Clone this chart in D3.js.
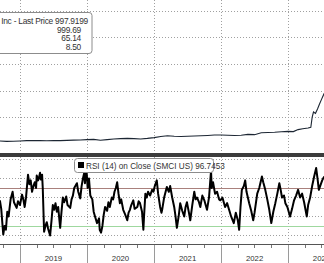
<!DOCTYPE html>
<html>
<head>
<meta charset="utf-8">
<script src="https://cdn.jsdelivr.net/npm/d3@7"></script>
<style>
  body { margin: 0; background: #fff; }
  svg { display: block; font-family: "Liberation Sans", Arial, sans-serif; }
  .grid { shape-rendering: crispEdges; }
</style>
</head>
<body>
<div id="chart"></div>
<script>
// price series (decimal year, USD)
var priceYears = [2018.70, 2018.80, 2018.90, 2019.00, 2019.10, 2019.20, 2019.30, 2019.40, 2019.50, 2019.60,
  2019.70, 2019.80, 2019.90, 2020.00, 2020.10, 2020.20, 2020.30, 2020.40, 2020.50, 2020.60,
  2020.70, 2020.80, 2020.90, 2021.00, 2021.10, 2021.20, 2021.30, 2021.40, 2021.50, 2021.60,
  2021.70, 2021.80, 2021.90, 2022.00, 2022.10, 2022.20, 2022.30, 2022.40, 2022.50, 2022.60,
  2022.70, 2022.80, 2022.90, 2023.00, 2023.08, 2023.15, 2023.22, 2023.30, 2023.34, 2023.36,
  2023.38, 2023.41, 2023.44, 2023.47, 2023.50, 2023.54];
var priceValues = [22, 20, 21, 23, 25, 26, 25, 24, 26, 25,
  27, 29, 30, 33, 35, 28, 33, 37, 40, 42,
  40, 38, 42, 48, 56, 62, 58, 56, 58, 60,
  62, 64, 67, 68, 66, 64, 66, 72, 70, 84,
  86, 88, 92, 95, 93, 108, 114, 120, 126, 200,
  240, 230, 262, 300, 335, 380];

// RSI (14) series
var rsiYears = [2018.70, 2018.72, 2018.75, 2018.77, 2018.79, 2018.81, 2018.83, 2018.86, 2018.89, 2018.91,
  2018.95, 2018.97, 2019.00, 2019.03, 2019.05, 2019.07, 2019.09, 2019.12, 2019.14, 2019.16,
  2019.18, 2019.20, 2019.22, 2019.24, 2019.25, 2019.27, 2019.28, 2019.30, 2019.31, 2019.33,
  2019.34, 2019.36, 2019.38, 2019.40, 2019.42, 2019.45, 2019.47, 2019.49, 2019.51, 2019.53,
  2019.55, 2019.57, 2019.60, 2019.62, 2019.64, 2019.66, 2019.69, 2019.71, 2019.75, 2019.77,
  2019.79, 2019.81, 2019.85, 2019.87, 2019.90, 2019.92, 2019.94, 2019.96, 2019.97, 2019.99,
  2020.01, 2020.03, 2020.05, 2020.08, 2020.10, 2020.12, 2020.15, 2020.18, 2020.19, 2020.21,
  2020.23, 2020.25, 2020.27, 2020.30, 2020.32, 2020.34, 2020.37, 2020.39, 2020.41, 2020.43,
  2020.45, 2020.47, 2020.49, 2020.51, 2020.54, 2020.57, 2020.60, 2020.62, 2020.64, 2020.66,
  2020.69, 2020.71, 2020.75, 2020.77, 2020.79, 2020.82, 2020.84, 2020.85, 2020.87, 2020.89,
  2020.91, 2020.94, 2020.97, 2020.99, 2021.01, 2021.04, 2021.06, 2021.09, 2021.11, 2021.12,
  2021.15, 2021.19, 2021.22, 2021.24, 2021.27, 2021.30, 2021.32, 2021.34, 2021.37, 2021.39,
  2021.42, 2021.45, 2021.47, 2021.49, 2021.52, 2021.54, 2021.57, 2021.60, 2021.62, 2021.64,
  2021.67, 2021.69, 2021.72, 2021.75, 2021.77, 2021.79, 2021.82, 2021.85, 2021.86, 2021.88,
  2021.91, 2021.94, 2021.97, 2021.99, 2022.02, 2022.06, 2022.09, 2022.12, 2022.15, 2022.19,
  2022.22, 2022.25, 2022.27, 2022.29, 2022.31, 2022.34, 2022.36, 2022.38, 2022.42, 2022.45,
  2022.48, 2022.50, 2022.54, 2022.57, 2022.61, 2022.63, 2022.66, 2022.69, 2022.72, 2022.75,
  2022.78, 2022.81, 2022.84, 2022.87, 2022.89, 2022.91, 2022.94, 2022.96, 2022.99, 2023.03,
  2023.06, 2023.09, 2023.12, 2023.15, 2023.18, 2023.21, 2023.24, 2023.28, 2023.30, 2023.33,
  2023.36, 2023.39, 2023.42, 2023.44, 2023.46, 2023.49, 2023.51, 2023.54];
var rsiValues = [57, 48, 21, 30, 26, 45, 40, 58, 66, 55,
  49, 56, 52, 63, 58, 50, 60, 84, 74, 78,
  66, 72, 76, 70, 83, 78, 80, 86, 79, 84,
  70, 24, 30, 34, 27, 20, 35, 52, 47, 54,
  45, 50, 28, 45, 60, 55, 61, 52, 49, 58,
  62, 70, 75, 66, 59, 72, 80, 86, 75, 93,
  70, 80, 62, 58, 45, 40, 33, 38, 26, 23,
  30, 42, 50, 46, 55, 50, 60, 58, 66, 70,
  76, 64, 54, 58, 47, 42, 36, 44, 47, 52,
  57, 48, 50, 56, 54, 45, 26, 40, 64, 60,
  66, 62, 68, 66, 72, 78, 64, 50, 44, 47,
  60, 71, 66, 72, 60, 50, 40, 28, 42, 54,
  46, 40, 50, 55, 44, 36, 52, 66, 58, 60,
  55, 50, 62, 57, 52, 47, 60, 88, 70, 76,
  64, 66, 58, 57, 60, 50, 54, 47, 40, 33,
  44, 36, 26, 50, 68, 72, 78, 66, 54, 46,
  36, 44, 64, 70, 82, 76, 68, 58, 47, 33,
  45, 54, 64, 75, 68, 60, 62, 54, 50, 40,
  48, 57, 62, 68, 60, 64, 55, 40, 52, 60,
  72, 82, 91, 80, 68, 74, 78, 82];

var priceGrid = [200, 400, 600, 800, 1000];
var rsiGrid = [20, 40, 60, 80, 100];
var rsiHigh = 70, rsiLow = 30;
var priceLegend = ["Super Micro Computer Inc - Last Price 997.9199", "999.69", "65.14", "8.50"];
var rsiLegend = "RSI (14)  on Close (SMCI US) 96.7453";

var W = 324, H = 263;

function yr(t) {
  var y = Math.floor(t);
  var a = new Date(y, 0, 1), b = new Date(y + 1, 0, 1);
  return new Date(+a + (t - y) * (b - a));
}
// snap to pixel centre so dotted lines stay crisp
function px(v) { return Math.round(v) + 0.5; }

var svg = d3.select("#chart").append("svg").attr("width", W).attr("height", H);

var x = d3.scaleTime().domain([yr(2018.7015), yr(2023.537)]).range([0, W]);
var yP = d3.scaleLinear().domain([0, 1000]).range([144, 10.7]);
var yR = d3.scaleLinear().domain([11, 102.6]).range([244, 157]);

var years = x.ticks(d3.timeYear.every(1));
var quarters = d3.timeMonth.every(3).range(x.domain()[0], x.domain()[1]);

var grid = "#a0a0a0";

// dotted grid, top panel
svg.selectAll("line.pg").data(priceGrid).enter().append("line").attr("class", "grid")
  .attr("x1", 0).attr("x2", W)
  .attr("y1", d => px(yP(d))).attr("y2", d => px(yP(d)))
  .attr("stroke", grid).attr("stroke-dasharray", "1,2");
svg.selectAll("line.pv").data(years).enter().append("line").attr("class", "grid")
  .attr("x1", d => px(x(d))).attr("x2", d => px(x(d)))
  .attr("y1", 0).attr("y2", 152)
  .attr("stroke", grid).attr("stroke-dasharray", "1,2");

// price line
var pData = priceYears.map((t, i) => ({ d: yr(t), v: priceValues[i] }));
svg.append("path").datum(pData)
  .attr("fill", "none").attr("stroke", "#1c2633").attr("stroke-width", 1.1)
  .attr("d", d3.line().x(d => x(d.d)).y(d => yP(d.v)));

// top legend box
var lg = svg.append("g");
lg.append("rect").attr("x", -10).attr("y", 12.5).attr("width", 102).attr("height", 41)
  .attr("rx", 3).attr("fill", "#fff").attr("stroke", "#8c8c8c");
lg.selectAll("text").data(priceLegend).enter().append("text")
  .attr("x", (d, i) => i == 0 ? 88 : 81)
  .attr("y", (d, i) => 24 + i * 8.5)
  .attr("text-anchor", "end").attr("font-size", 8.4).attr("letter-spacing", -0.25).attr("fill", "#333")
  .text(d => d);

// separator
svg.append("rect").attr("x", 0).attr("y", 153).attr("width", W).attr("height", 4).attr("fill", "#3c3c3c");

// dotted grid, bottom panel
svg.selectAll("line.rg").data(rsiGrid).enter().append("line").attr("class", "grid")
  .attr("x1", 0).attr("x2", W)
  .attr("y1", d => px(yR(d))).attr("y2", d => px(yR(d)))
  .attr("stroke", grid).attr("stroke-dasharray", "1,2");
svg.selectAll("line.rv").data(years).enter().append("line").attr("class", "grid")
  .attr("x1", d => px(x(d))).attr("x2", d => px(x(d)))
  .attr("y1", 157).attr("y2", 244)
  .attr("stroke", grid).attr("stroke-dasharray", "1,2");

// 70 / 30 levels
svg.append("line").attr("x1", 0).attr("x2", W).attr("y1", px(yR(rsiHigh))).attr("y2", px(yR(rsiHigh)))
  .attr("stroke", "#a9807c").attr("stroke-width", 1.2);
svg.append("line").attr("x1", 0).attr("x2", W).attr("y1", px(yR(rsiLow))).attr("y2", px(yR(rsiLow)))
  .attr("stroke", "#9fd89f").attr("stroke-width", 1.2);

// RSI line
var rData = rsiYears.map((t, i) => ({ d: yr(t), v: rsiValues[i] }));
svg.append("path").datum(rData)
  .attr("fill", "none").attr("stroke", "#000").attr("stroke-width", 2)
  .attr("stroke-linejoin", "round")
  .attr("d", d3.line().x(d => x(d.d)).y(d => yR(d.v)));

// RSI legend
var rl = svg.append("g");
rl.append("rect").attr("x", 74.5).attr("y", 158.5).attr("width", 139).attr("height", 14)
  .attr("rx", 3).attr("fill", "#fff").attr("stroke", "#8c8c8c");
rl.append("rect").attr("x", 78).attr("y", 162).attr("width", 6).attr("height", 6).attr("fill", "#000");
rl.append("text").attr("x", 86).attr("y", 168.5).attr("font-size", 8.2).attr("fill", "#333").text(rsiLegend);

// bottom axis
svg.append("line").attr("x1", 0).attr("x2", W).attr("y1", 244.5).attr("y2", 244.5).attr("stroke", "#555");
svg.selectAll("line.qt").data(quarters).enter().append("line")
  .attr("x1", d => px(x(d))).attr("x2", d => px(x(d)))
  .attr("y1", 245).attr("y2", 248).attr("stroke", "#777");
svg.selectAll("line.yt").data(years).enter().append("line")
  .attr("x1", d => px(x(d))).attr("x2", d => px(x(d)))
  .attr("y1", 245).attr("y2", H).attr("stroke", "#9a9a9a");
svg.selectAll("text.yl").data(years).enter().append("text")
  .attr("x", d => (x(d) + x(d3.timeYear.offset(d, 1))) / 2)
  .attr("y", 261).attr("text-anchor", "middle").attr("font-size", 7.8).attr("fill", "#333")
  .text(d => d3.timeFormat("%Y")(d));
</script>
</body>
</html>
